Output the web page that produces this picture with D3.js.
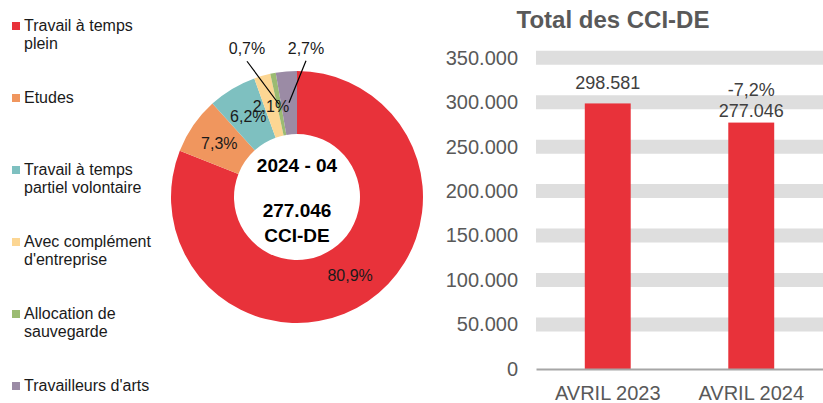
<!DOCTYPE html>
<html>
<head>
<meta charset="utf-8">
<script src="https://cdn.jsdelivr.net/npm/d3@7"></script>
<style>
  body { margin: 0; background: #fff; }
  svg { font-family: "Liberation Sans", Arial, sans-serif; display: block; }
</style>
</head>
<body>
<svg id="chart" width="823" height="403"></svg>
<script>
// donut data
const categories = ["Travail à temps plein", "Etudes", "Travail à temps partiel volontaire",
  "Avec complément d'entreprise", "Allocation de sauvegarde", "Travailleurs d'arts"];
const legendLines = [["Travail à temps", "plein"], ["Etudes"], ["Travail à temps", "partiel volontaire"],
  ["Avec complément", "d'entreprise"], ["Allocation de", "sauvegarde"], ["Travailleurs d'arts"]];
const shares = [80.9, 7.3, 6.2, 2.1, 0.7, 2.7];
const colors = ["#E8323A", "#F0965E", "#7EC0C0", "#FCD693", "#9BBB72", "#9B8BA5"];
const centerLines = ["2024 - 04", "277.046", "CCI-DE"];

// bar data
const periods = ["AVRIL 2023", "AVRIL 2024"];
const totals = [298581, 277046];
const yTicks = [0, 50000, 100000, 150000, 200000, 250000, 300000, 350000];

const loc = d3.formatLocale({decimal: ",", thousands: ".", grouping: [3], currency: ["", "€"], minus: "-"});
const fmtN = loc.format(",d");
const fmtP = loc.format(".1f");

const svg = d3.select("#chart");

// legend
const legend = svg.append("g");
legendLines.forEach((lines, i) => {
  const y0 = 31 + i * 72;
  legend.append("rect")
    .attr("x", 12).attr("y", y0 - 9)
    .attr("width", 8).attr("height", 8)
    .attr("fill", colors[i]);
  lines.forEach((t, j) => {
    legend.append("text")
      .attr("x", 24).attr("y", y0 + j * 18)
      .attr("font-size", 16).attr("fill", "#1a1a1a")
      .text(t);
  });
});

// donut
const cx = 297, cy = 197;
const pie = d3.pie().sort(null).value(d => d);
const arc = d3.arc().innerRadius(63).outerRadius(126);
const arcs = pie(shares);
const donut = svg.append("g").attr("transform", `translate(${cx},${cy})`);

donut.selectAll("path")
  .data(arcs)
  .join("path")
  .attr("d", arc)
  .attr("fill", (d, i) => colors[i]);

// outside labels for the thin slices
const outside = {4: [-32, -50], 5: [17, -49]};

arcs.forEach((d, i) => {
  const [x, y] = arc.centroid(d);
  const label = fmtP(shares[i]) + "%";
  if (outside[i]) {
    const [ox, oy] = outside[i];
    donut.append("line")
      .attr("x1", x + ox).attr("y1", y + oy + 7)
      .attr("x2", x).attr("y2", y)
      .attr("stroke", "#000").attr("stroke-width", 1.2);
    donut.append("text")
      .attr("x", x + ox).attr("y", y + oy)
      .attr("text-anchor", "middle")
      .attr("font-size", 16).attr("fill", "#1a1a1a")
      .text(label);
  } else {
    donut.append("text")
      .attr("x", x).attr("y", y)
      .attr("dy", "0.35em")
      .attr("text-anchor", "middle")
      .attr("font-size", 16).attr("fill", "#1a1a1a")
      .text(label);
  }
});

centerLines.forEach((t, i) => {
  donut.append("text")
    .attr("x", 0).attr("y", -25 + (i === 0 ? 0 : 20 + i * 25))
    .attr("text-anchor", "middle")
    .attr("font-size", 19).attr("font-weight", "bold")
    .attr("fill", "#000")
    .text(t);
});

// bar chart
const plotL = 536, plotR = 823, plotT = 57.7, plotB = 369;

svg.append("text")
  .attr("x", 613).attr("y", 28)
  .attr("text-anchor", "middle")
  .attr("font-size", 24).attr("font-weight", "bold")
  .attr("fill", "#595959")
  .text("Total des CCI-DE");

const x = d3.scaleBand()
  .domain(periods)
  .range([plotL, plotR])
  .paddingInner(0.68)
  .paddingOuter(0.34);

const y = d3.scaleLinear()
  .domain([0, 350000])
  .range([plotB, plotT]);

// thick grey gridline bands
svg.append("g")
  .selectAll("line")
  .data(yTicks.filter(v => v > 0))
  .join("line")
  .attr("x1", plotL).attr("x2", plotR)
  .attr("y1", d => y(d)).attr("y2", d => y(d))
  .attr("stroke", "#DEDEDE").attr("stroke-width", 14);

const yAxis = d3.axisLeft(y)
  .tickValues(yTicks)
  .tickFormat(fmtN)
  .tickSize(0)
  .tickPadding(18);

const yg = svg.append("g")
  .attr("transform", `translate(${plotL},0)`)
  .call(yAxis);
yg.select(".domain").remove();
yg.selectAll("text")
  .attr("font-size", 20)
  .attr("font-family", "Liberation Sans, Arial, sans-serif")
  .attr("fill", "#595959");

svg.append("g")
  .selectAll("rect")
  .data(totals)
  .join("rect")
  .attr("x", (d, i) => x(periods[i]))
  .attr("width", x.bandwidth())
  .attr("y", d => y(d))
  .attr("height", d => plotB - y(d))
  .attr("fill", "#E8323A");

const xAxis = d3.axisBottom(x).tickSize(0).tickPadding(10);
const xg = svg.append("g")
  .attr("transform", `translate(0,${plotB})`)
  .call(xAxis);
xg.select(".domain").attr("stroke", "#A6A6A6").attr("stroke-width", 2);
xg.selectAll("text")
  .attr("font-size", 20)
  .attr("font-family", "Liberation Sans, Arial, sans-serif")
  .attr("fill", "#595959")
  .attr("dy", "1.05em");

// value labels
totals.forEach((v, i) => {
  const cxBar = x(periods[i]) + x.bandwidth() / 2;
  const lines = [fmtN(v)];
  if (i > 0) lines.unshift(fmtP((v - totals[i - 1]) / totals[i - 1] * 100) + "%");
  const base = y(v) - (lines.length === 1 ? 14 : 6);
  lines.forEach((t, j) => {
    svg.append("text")
      .attr("x", cxBar)
      .attr("y", base - (lines.length - 1 - j) * 21)
      .attr("text-anchor", "middle")
      .attr("font-size", 18).attr("fill", "#404040")
      .text(t);
  });
});
</script>
</body>
</html>
